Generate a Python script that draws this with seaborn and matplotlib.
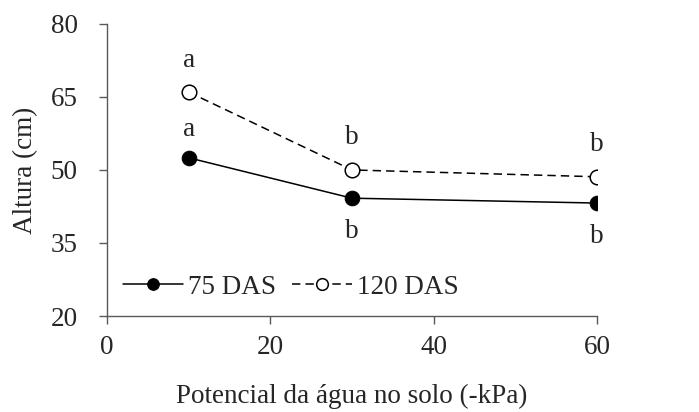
import matplotlib
matplotlib.use("Agg")
import matplotlib.pyplot as plt
import seaborn as sns
import pandas as pd

x_vals = [10, 30, 60]
alt_75 = [52.5, 44.2, 43.2]
alt_120 = [66.0, 50.0, 48.6]
letters_75 = ["a", "b", "b"]
letters_120 = ["a", "b", "b"]
series_names = ["75 DAS", "120 DAS"]
x_ticks = [0, 20, 40, 60]
y_ticks = [20, 35, 50, 65, 80]

sns.set_theme(style="white")
plt.rcParams['font.family'] = ['Liberation Serif', 'DejaVu Serif']

fig = plt.figure(figsize=(6.99, 4.12), dpi=100)
ax = fig.add_axes([0.153, 0.233, 0.701, 0.709])

df75 = pd.DataFrame({"x": x_vals, "y": alt_75})
df120 = pd.DataFrame({"x": x_vals, "y": alt_120})

sns.lineplot(data=df75, x="x", y="y", ax=ax, color="black", lw=1.1,
             marker="o", markersize=10.5, markerfacecolor="black",
             markeredgecolor="black", label=series_names[0])
sns.lineplot(data=df120, x="x", y="y", ax=ax, color="black", lw=1.1,
             linestyle=(0, (5.5, 3.3)), marker="o", markersize=10.5,
             markerfacecolor="white", markeredgecolor="black",
             markeredgewidth=1.1, label=series_names[1])

fs = 19.5
for i, (xv, yv, t) in enumerate(zip(x_vals, alt_120, letters_120)):
    ax.annotate(t, (xv, yv), xytext=(0, 13.5 if i == 0 else 14.5),
                textcoords="offset points", ha="center", va="bottom",
                fontsize=fs)
for i, (xv, yv, t) in enumerate(zip(x_vals, alt_75, letters_75)):
    if i == 0:
        ax.annotate(t, (xv, yv), xytext=(0, 11.5), textcoords="offset points",
                    ha="center", va="bottom", fontsize=fs)
    else:
        ax.annotate(t, (xv, yv), xytext=(0, -15), textcoords="offset points",
                    ha="center", va="top", fontsize=fs)

ax.set_xlim(0, 60)
ax.set_ylim(20, 80)
ax.set_xticks(x_ticks)
ax.set_yticks(y_ticks)
ax.set_xlabel("Potencial da água no solo (-kPa)", fontsize=fs, labelpad=17)
ax.set_ylabel("Altura (cm)", fontsize=fs, labelpad=9)
ax.tick_params(axis="both", labelsize=fs, direction="out", length=6,
               width=1, color="#595959", bottom=True, left=True)
ax.tick_params(axis="x", pad=8)
ax.tick_params(axis="y", pad=15)
for s in ["top", "right"]:
    ax.spines[s].set_visible(False)
for s in ["left", "bottom"]:
    ax.spines[s].set_color("#595959")
    ax.spines[s].set_linewidth(1)

leg = ax.legend(loc="lower left", ncol=2, frameon=False, fontsize=fs,
                handlelength=2.2, handletextpad=0.2, columnspacing=0.6,
                borderaxespad=0.2, markerscale=0.8)

fig.savefig("out.png", dpi=100)
